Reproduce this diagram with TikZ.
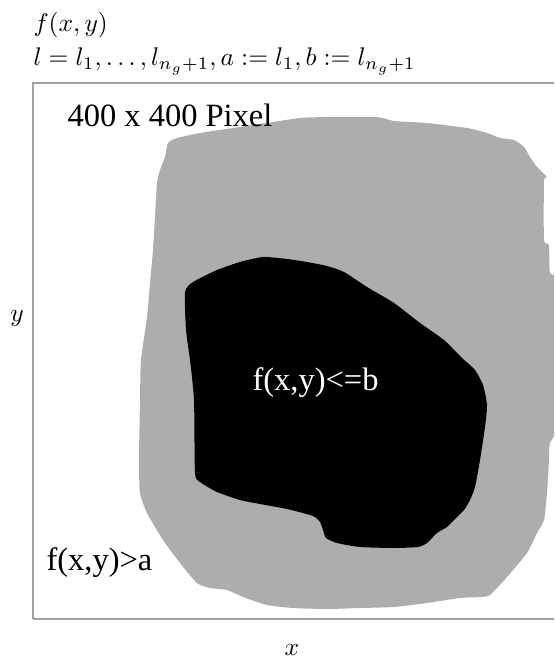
\documentclass[tikz,border=0pt]{standalone}
\usepackage{fontspec}
\newfontfamily\tnr{Liberation Serif}
\definecolor{regiongray}{RGB}{173,173,173}
\definecolor{framegray}{RGB}{160,160,160}
\begin{document}
\begin{tikzpicture}[x=0.4pt,y=-0.4pt,
  lbl/.style={inner sep=0pt,anchor=base west,font=\normalsize,scale=1.02},
  axlbl/.style={inner sep=0pt,font=\normalsize,scale=1.02},
  serif/.style={inner sep=0pt,anchor=base west,font=\tnr\fontsize{13}{15}\selectfont}]
\useasboundingbox (0,0) rectangle (554,664);
\begin{scope}
\clip (0,0) rectangle (554,664);
% gray region
\fill[regiongray] plot[smooth cycle,tension=0.35] coordinates {
(168,143) (177,138) (200,133) (233,128) (273,122) (300,118) (327,117)
(377,117) (394,121) (427,123) (467,128) (487,133) (500,138) (514,140)
(524,147) (530,157) (537,167) (547,177) (544,181) (544,240) (549,245)
(550,273) (562,285) (562,415) (550,443) (549,460) (547,493) (544,520)
(537,533) (527,553) (507,577) (490,595) (480,597) (460,598) (427,603)
(394,607) (360,608) (327,609) (293,608) (267,605) (243,597) (227,590)
(210,588) (197,583) (180,563) (163,540) (147,513) (140,493) (139,460)
(140,400) (141,360) (147,317) (150,283) (153,250) (155,217) (157,183)
(160,170) (165,157)};
% black region
\fill[black] plot[smooth cycle,tension=0.35] coordinates {
(185,292) (193,282) (217,270) (240,262) (263,257) (287,259) (307,262)
(327,266) (344,272) (367,287) (394,303) (420,323) (444,340) (462,358)
(475,370) (483,385) (487,405) (485,427) (480,460) (475,487) (470,500)
(464,510) (454,520) (447,527) (437,533) (427,543) (418,547) (394,548)
(360,547) (337,543) (326,538) (323,530) (320,522) (313,516) (287,509)
(260,504) (240,500) (217,492) (200,482) (195,473) (194,400) (190,360)
(186,330)};
% frame
\draw[framegray,line width=0.5pt] (33,619) -- (33,83) -- (600,83)
  (33,619) -- (600,619);
\end{scope}
\node[lbl] (fxy) at (33,32) {$f(x,y)$};
\node[lbl] (levels) at (33,66) {$l=l_1,\ldots,l_{n_g+1},a:=l_1,b:=l_{n_g+1}$};
\node[serif] (pix) at (67,127) {400 x 400 Pixel};
\node[serif,text=white] (inner) at (252,390) {f(x,y)<=b};
\node[serif] (outer) at (46,570) {f(x,y)>a};
\node[axlbl] (ylab) at (17,318) {$y$};
\node[axlbl] (xlab) at (292,650) {$x$};
\end{tikzpicture}
\end{document}
